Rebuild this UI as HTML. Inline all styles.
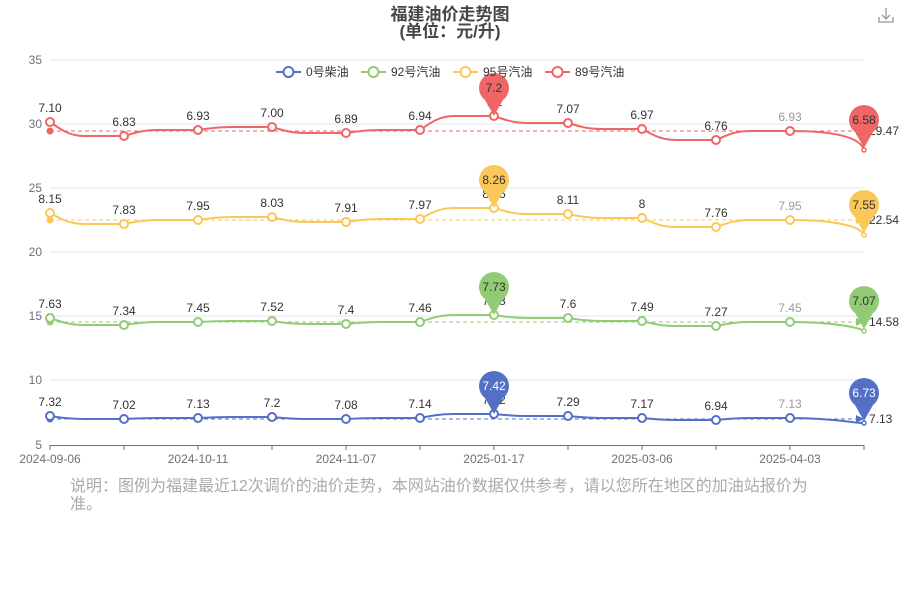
<!DOCTYPE html>
<html><head><meta charset="utf-8"><style>
body{margin:0;background:#fff;width:900px;height:600px;overflow:hidden;position:relative;font-family:"Liberation Sans","Noto Sans CJK SC",sans-serif}
.note{position:absolute;left:70px;top:478px;width:745px;font-size:16px;line-height:18px;color:#aaa;letter-spacing:0px}
</style></head><body>
<svg id="s" width="900" height="600" style="position:absolute;left:0;top:0" font-family="Liberation Sans, Noto Sans CJK SC, sans-serif">
<text x="450" y="20" text-anchor="middle" font-size="17" font-weight="bold" fill="#464646">福建油价走势图</text>
<text x="450" y="37" text-anchor="middle" font-size="17" font-weight="bold" fill="#464646">(单位：元/升)</text>
<g stroke="#999" fill="none" stroke-width="1.3"><path d="M886 8v11M882 15l4 4 4-4"/><path d="M879 17v5h14v-5"/></g>
</svg>
<div class="note">说明：图例为福建最近12次调价的油价走势，本网站油价数据仅供参考，请以您所在地区的加油站报价为准。</div>
<script>
const s=document.getElementById('s');const NS='http://www.w3.org/2000/svg';
function el(t,a,txt){const e=document.createElementNS(NS,t);for(const k in a)e.setAttribute(k,a[k]);if(txt!==undefined)e.textContent=txt;s.appendChild(e);return e;}
const yv=[[35,60],[30,124],[25,188],[20,252],[15,316],[10,380],[5,445]];
yv.forEach(([v,y])=>{if(v!=5)el('line',{x1:50,x2:864,y1:y,y2:y,stroke:'#e0e6f1'});el('text',{x:42,y:y+4,'text-anchor':'end','font-size':12,fill:'#6e7079'},String(v));});
el('line',{x1:50,x2:864,y1:445.5,y2:445.5,stroke:'#6e7079'});
const X=i=>50+74*i;
for(let i=0;i<12;i++)el('line',{x1:X(i),x2:X(i),y1:445,y2:450,stroke:'#6e7079'});
[['2024-09-06',0],['2024-10-11',2],['2024-11-07',4],['2025-01-17',6],['2025-03-06',8],['2025-04-03',10]].forEach(([t,i])=>el('text',{x:X(i),y:463,'text-anchor':'middle','font-size':12,fill:'#6e7079'},t));
const series=[
{c:'#ee6666',avg:131,end:'29.47',ys:[122,136,130,127,133,130,116,123,129,140,131,150],lb:['7.10','6.83','6.93','7.00','6.89','6.94','7.2','7.07','6.97','6.76','6.93','6.58']},
{c:'#fac858',avg:220,end:'22.54',ys:[213,224,220,217,222,219,208,214,218,227,220,235],lb:['8.15','7.83','7.95','8.03','7.91','7.97','8.26','8.11','8','7.76','7.95','7.55']},
{c:'#91cc75',avg:322,end:'14.58',ys:[318,325,322,321,324,322,315,318,321,326,322,331],lb:['7.63','7.34','7.45','7.52','7.4','7.46','7.73','7.6','7.49','7.27','7.45','7.07']},
{c:'#5470c6',avg:419,end:'7.13',ys:[416,419,418,417,419,418,414,416,418,420,418,423],lb:['7.32','7.02','7.13','7.2','7.08','7.14','7.42','7.29','7.17','6.94','7.13','6.73']}];
series.forEach(S=>{
 el('line',{x1:50,x2:858,y1:S.avg,y2:S.avg,stroke:S.c,'stroke-dasharray':'4,3','stroke-width':1});
 el('path',{d:`M856 ${S.avg-4}L864 ${S.avg}L856 ${S.avg+4}Z`,fill:S.c});
 el('circle',{cx:50,cy:S.avg,r:3.5,fill:S.c});
 el('text',{x:869,y:S.avg+4,'font-size':12,fill:'#333'},S.end);
 let d=`M50 ${S.ys[0]}`;
 for(let i=0;i<11;i++){const x0=X(i),y0=S.ys[i],y1=S.ys[i+1];
  if(i<10) d+=`C${x0+12} ${y0+(y1-y0)*0.6} ${x0+20} ${y1} ${x0+34} ${y1}L${x0+54} ${y1}C${x0+64} ${y1} ${x0+70} ${y1} ${x0+74} ${y1}`;
  else d+=`C${x0+45} ${y0} ${x0+70} ${y0+6} ${x0+74} ${y1}`;}
 el('path',{d,fill:'none',stroke:S.c,'stroke-width':2});
 S.ys.forEach((y,i)=>{
  if(i==11){el('circle',{cx:X(i),cy:y,r:2,fill:'#fff',stroke:S.c,'stroke-width':1.5});}
  else el('circle',{cx:X(i),cy:y,r:4,fill:'#fff',stroke:S.c,'stroke-width':2});
  if(i<11)el('text',{x:X(i),y:y-10,'text-anchor':'middle','font-size':12,fill:i==10?'#999':'#333'},S.lb[i]);
 });
 [[6,S.ys[6]],[11,S.ys[11]-2]].forEach(([i,ty])=>{const x=X(i),cy=ty-28;
  el('path',{d:`M${x} ${ty}L${x-9} ${cy+12}A15 15 0 1 1 ${x+9} ${cy+12}Z`,fill:S.c});
  el('text',{x:x,y:cy+4,'text-anchor':'middle','font-size':12,fill:S.c=='#5470c6'?'#fff':'#333'},S.lb[i]);});
});
const lg=[['0号柴油','#5470c6',276],['92号汽油','#91cc75',361],['95号汽油','#fac858',453],['89号汽油','#ee6666',545]];
lg.forEach(([t,c,x])=>{el('line',{x1:x,x2:x+25,y1:72,y2:72,stroke:c,'stroke-width':2});el('circle',{cx:x+12.5,cy:72,r:5,fill:'#fff',stroke:c,'stroke-width':2});el('text',{x:x+30,y:76,'font-size':12,fill:'#333'},t);});
</script>
</body></html>
